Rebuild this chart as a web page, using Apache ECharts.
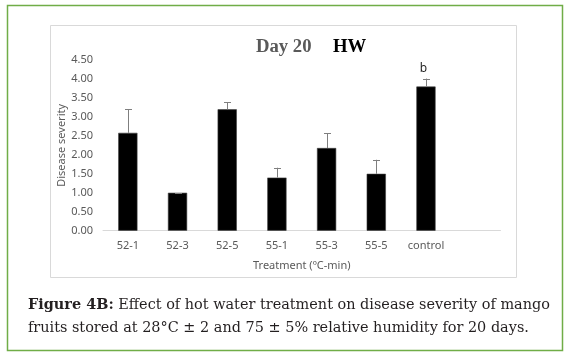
<!DOCTYPE html>
<html><head><meta charset="utf-8">
<script src="https://cdn.jsdelivr.net/npm/echarts@6/dist/echarts.min.js"></script>
<style>html,body{margin:0;padding:0;background:#fff}#c{width:568px;height:360px}</style>
</head><body><div id="c"></div>
<script>
var categories = ['52-1', '52-3', '52-5', '55-1', '55-3', '55-5', 'control', ''];
var severity = [2.58, 1.00, 3.20, 1.40, 2.18, 1.50, 3.80];
var errors = [0.62, 0.00, 0.19, 0.26, 0.39, 0.37, 0.21];
var letters = ['', '', '', '', '', '', 'b'];
var yTicks = [0, 4.5, 0.5];

var chart = echarts.init(document.getElementById('c'), null, {renderer: 'canvas'});
var errData = severity.map(function (v, i) { return [i, v, errors[i]]; });
var capFont = 'DejaVu Serif';
var capSize = 14.45;

chart.setOption({
  animation: false,
  backgroundColor: '#fff',
  title: [
    {text: 'Day 20', left: 251, top: 33, textStyle: {fontFamily: 'Liberation Serif', fontWeight: 'bold', fontSize: 18.7, color: '#595959'}},
    {text: 'HW', left: 328, top: 33, textStyle: {fontFamily: 'Liberation Serif', fontWeight: 'bold', fontSize: 18.7, color: '#000'}}
  ],
  graphic: [
    {type: 'rect', shape: {x: 7.5, y: 5.5, width: 555, height: 345}, style: {fill: 'none', stroke: '#70ad47', lineWidth: 1.5}, silent: true, z: -10},
    {type: 'rect', shape: {x: 50.5, y: 25.5, width: 466, height: 252}, style: {fill: 'none', stroke: '#d9d9d9', lineWidth: 1}, silent: true, z: -10},
    {type: 'text', left: 28, top: 298, style: {
      text: '{b|Figure 4B:} Effect of hot water treatment on disease severity of mango',
      rich: {b: {fontWeight: 'bold', fontFamily: capFont, fontSize: capSize, fill: '#231f20'}},
      fontFamily: capFont, fontSize: capSize, fill: '#231f20'}},
    {type: 'text', left: 28, top: 321, style: {
      text: 'fruits stored at 28°C ± 2 and 75 ± 5% relative humidity for 20 days.',
      fontFamily: capFont, fontSize: capSize, fill: '#231f20'}}
  ],
  grid: {left: 103, right: 67.5, top: 60, bottom: 129.3, containLabel: false},
  xAxis: {
    type: 'category', data: categories,
    axisLine: {lineStyle: {color: '#d9d9d9', width: 1}},
    axisTick: {show: false},
    axisLabel: {color: '#595959', fontFamily: 'Noto Sans', fontSize: 11, margin: 10, interval: 0},
    name: 'Treatment (ºC-min)', nameLocation: 'middle', nameGap: 30, nameMoveOverlap: false,
    nameTextStyle: {color: '#595959', fontFamily: 'Noto Sans', fontSize: 11}
  },
  yAxis: {
    type: 'value', min: yTicks[0], max: yTicks[1], interval: yTicks[2],
    splitLine: {show: false}, axisLine: {show: false}, axisTick: {show: false},
    axisLabel: {color: '#595959', fontFamily: 'Noto Sans', fontSize: 11, margin: 10,
      formatter: function (v) { return v.toFixed(2); }},
    name: 'Disease severity', nameLocation: 'middle', nameGap: 36, nameRotate: 90, nameMoveOverlap: false,
    nameTextStyle: {color: '#595959', fontFamily: 'Noto Sans', fontSize: 11}
  },
  series: [
    {type: 'bar', data: severity, barWidth: 19.2,
     itemStyle: {color: '#000', borderColor: '#404040', borderWidth: 0.6}},
    {type: 'custom', data: errData, z: 5,
     renderItem: function (params, api) {
       var i = api.value(0), m = api.value(1), e = api.value(2);
       var p0 = api.coord([i, m]);
       var p1 = api.coord([i, m + e]);
       var x = Math.round(p0[0]) + 0.5, cw = 3.5;
       var children = [
         {type: 'line', shape: {x1: x, y1: p0[1], x2: x, y2: p1[1]}, style: {stroke: '#7f7f7f', lineWidth: 1}},
         {type: 'line', shape: {x1: x - cw, y1: Math.round(p1[1]) + 0.5, x2: x + cw, y2: Math.round(p1[1]) + 0.5}, style: {stroke: '#7f7f7f', lineWidth: 1}}
       ];
       if (letters[i]) {
         children.push({type: 'text', style: {text: letters[i], x: x - 3, y: p1[1] - 10,
           textAlign: 'center', textVerticalAlign: 'middle', fontFamily: 'Noto Sans', fontSize: 12, fill: '#262626'}});
       }
       return {type: 'group', children: children};
     }}
  ]
});
</script></body></html>
